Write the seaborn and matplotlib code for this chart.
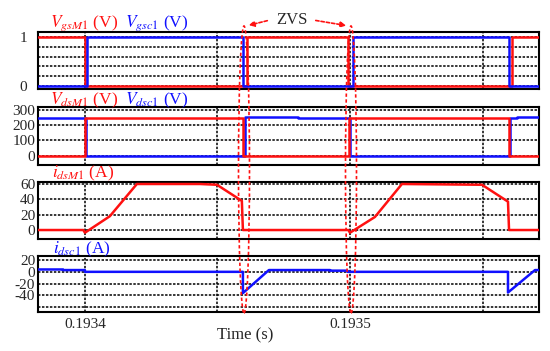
import numpy as np
import pandas as pd
import seaborn as sns
import matplotlib.pyplot as plt
from matplotlib.patches import Ellipse, FancyArrowPatch

sns.set_style('white')
plt.rcParams['font.family'] = 'Liberation Serif'
plt.rcParams['mathtext.fontset'] = 'stix'
plt.rcParams['axes.unicode_minus'] = False

T0, T1 = 0.1933823, 0.1935713

# gate signals
t_vgs_m1 = [T0, 0.1934000, 0.1934000, 0.1934610, 0.1934610, 0.1934994, 0.1934994, 0.1935610, 0.1935610, T1]
vgs_m1 = [1, 1, 0, 0, 1, 1, 0, 0, 1, 1]
t_vgs_c1 = [T0, 0.1934007, 0.1934007, 0.1934597, 0.1934597, 0.1935010, 0.1935010, 0.1935601, 0.1935601, T1]
vgs_c1 = [0, 0, 1, 1, 0, 0, 1, 1, 0, 0]

# drain-source voltages
t_vds_m1 = [T0, 0.1934000, 0.1934000, 0.1934597, 0.1934597, 0.1934996, 0.1934996, 0.1935600, 0.1935600, T1]
vds_m1 = [0, 0, 250, 250, 0, 0, 250, 250, 0, 0]
t_vds_c1 = [T0, 0.1934003, 0.1934003, 0.1934604, 0.1934604, 0.1934804, 0.1934804, 0.1935000,
            0.1935000, 0.1935602, 0.1935602, 0.1935630, 0.1935630, T1]
vds_c1 = [250, 250, 0, 0, 256, 256, 250, 250, 0, 0, 250, 250, 256, 256]

# drain currents
t_ids_m1 = [T0, 0.1933994, 0.1934000, 0.1934094, 0.1934196, 0.1934434, 0.1934498, 0.1934592, 0.1934596,
            0.1934994, 0.1935000, 0.1935094, 0.1935196, 0.1935498, 0.1935596, 0.1935600, T1]
ids_m1 = [0, 0, -3.5, 18, 60, 60, 59, 38, 0, 0, -3.5, 17, 60, 59, 37, 0, 0]
t_ids_c1 = [T0, 0.1933917, 0.1933917, 0.1934000, 0.1934000, 0.1934596, 0.1934596, 0.1934694,
            0.1934925, 0.1934925, 0.1934990, 0.1934990, 0.1935596, 0.1935596, 0.1935698, T1]
ids_c1 = [4, 4, 3, 3, 0, 0, -36, 3, 3, 2, 2, 0, 0, -35, 3, 3]

RED, BLUE = '#ff1010', '#1010ff'
W, H = 550, 351


def rect(top, bottom):
    return [38 / W, 1 - bottom / H, 501 / W, (bottom - top) / H]


panels = [
    dict(pos=rect(32, 89), ylim=(-0.061, 1.102), yt=[0, 1], ym=[0.2, 0.4, 0.6, 0.8], pad=8,
         series=[(t_vgs_m1, vgs_m1, RED), (t_vgs_c1, vgs_c1, BLUE)]),
    dict(pos=rect(107, 165), ylim=(-61, 320), yt=[0, 100, 200, 300], ym=[], pad=2,
         series=[(t_vds_c1, vds_c1, BLUE), (t_vds_m1, vds_m1, RED)]),
    dict(pos=rect(182, 239), ylim=(-11.7, 62.6), yt=[0, 20, 40, 60], ym=[], pad=2,
         series=[(t_ids_m1, ids_m1, RED)]),
    dict(pos=rect(256, 312), ylim=(-68, 26.8), yt=[-40, -20, 0, 20], ym=[-60], pad=2,
         series=[(t_ids_c1, ids_c1, BLUE)]),
]

fig = plt.figure(figsize=(W / 100, H / 100), dpi=100)
axes = []
for i, p in enumerate(panels):
    ax = fig.add_axes(p['pos'])
    for t, v, c in p['series']:
        sns.lineplot(x=t, y=v, estimator=None, sort=False, color=c, lw=1.8, ax=ax, zorder=5)
    ax.set_xlim(T0, T1)
    ax.set_ylim(*p['ylim'])
    ax.set_xticks([0.1934, 0.1935])
    ax.set_xticks([0.19345, 0.19355], minor=True)
    ax.set_yticks(p['yt'])
    ax.set_yticks(p['ym'], minor=True)
    ax.grid(which='both', color='k', ls=(0, (1.6, 1.0)), lw=1.1)
    ax.set_axisbelow(True)
    ax.tick_params(which='both', length=0, labelsize=11)
    ax.tick_params(axis='y', pad=p['pad'])
    ax.tick_params(axis='x', pad=4)
    for s in ax.spines.values():
        s.set_color('k')
        s.set_linewidth(1.5)
    ax.set_xlabel('')
    ax.set_ylabel('')
    if i < 3:
        ax.set_xticklabels([])
    else:
        ax.set_xticklabels(['0.1934', '0.1935'])
    axes.append(ax)

fig.text(245 / W, 1 - 339 / H, 'Time (s)', ha='center', va='baseline', fontsize=12)

labels = [
    (50, 27, r'$V_{gsM\mathrm{1}}$ (V)', RED), (125, 27, r'$V_{gsc\mathrm{1}}$ (V)', BLUE),
    (50, 104, r'$V_{dsM\mathrm{1}}$ (V)', RED), (125, 104, r'$V_{dsc\mathrm{1}}$ (V)', BLUE),
    (52, 177, r'$i_{dsM\mathrm{1}}$ (A)', RED), (53, 253, r'$i_{dsc\mathrm{1}}$ (A)', BLUE),
]
for x, y, s, c in labels:
    fig.text(x / W, 1 - y / H, s, color=c, fontsize=12.5, va='baseline')

# ZVS marks
fig.text(292 / W, 1 - 20 / H, 'ZVS', ha='center', va='center', fontsize=12)
for cx in (244, 351):
    fig.add_artist(Ellipse((cx / W, 1 - 169.5 / H), 11 / W, 287 / H, transform=fig.transFigure,
                           fill=False, ec=RED, lw=1.2, ls=(0, (2, 1.5)), zorder=10))
for start, end in [((270, 20), (246, 26)), ((313, 20), (349, 26))]:
    fig.add_artist(FancyArrowPatch((start[0] / W, 1 - start[1] / H), (end[0] / W, 1 - end[1] / H),
                                   transform=fig.transFigure, arrowstyle='-|>', mutation_scale=8,
                                   color=RED, lw=1.2, ls=(0, (2, 1.2)), zorder=10))

fig.savefig('out.png', dpi=100)
